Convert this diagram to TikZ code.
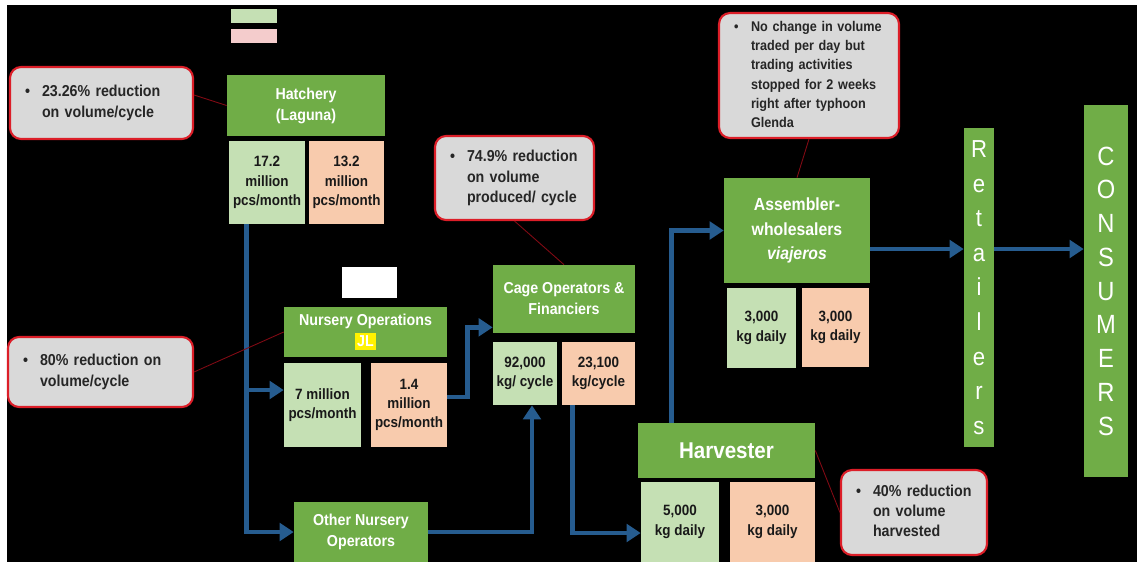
\documentclass[tikz,border=0pt]{standalone}
\usepackage{fontspec}
\setmainfont{Liberation Sans}[FakeStretch=0.9]
\usetikzlibrary{arrows.meta}
\definecolor{hgreen}{RGB}{112,173,71}
\definecolor{lgreen}{RGB}{197,224,180}
\definecolor{peach}{RGB}{248,203,173}
\definecolor{lpink}{RGB}{244,204,204}
\definecolor{notegray}{RGB}{217,217,217}
\definecolor{notered}{RGB}{220,30,40}
\definecolor{flowblue}{RGB}{38,92,143}
\definecolor{pinred}{RGB}{130,10,20}
\tikzstyle{head}=[fill=hgreen, text=white, font=\fontsize{9}{12}\selectfont\bfseries, align=center, inner sep=0pt]
\tikzstyle{valg}=[fill=lgreen, text=black!90, font=\fontsize{8.5}{11}\selectfont\bfseries, align=center, inner sep=0pt]
\tikzstyle{valp}=[valg, fill=peach]
\tikzstyle{note}=[fill=notegray, draw=notered, line width=1.2pt, rounded corners=0.22cm, inner xsep=0.3cm, inner ysep=0pt, align=left, font=\fontsize{9}{11.5}\selectfont\bfseries, text=black!85]
\tikzstyle{bar}=[fill=hgreen, text=white, align=center, inner sep=0pt]
\tikzstyle{flow}=[draw=flowblue, line width=2.8pt, -{Triangle[length=8pt,width=10pt]}]
\tikzstyle{pin}=[draw=pinred, line width=0.5pt]
\newcommand{\bul}[1]{\makebox[0.34cm][l]{\textbullet}\begin{tabular}[t]{@{}l@{}}#1\end{tabular}}
\begin{document}
\begin{tikzpicture}[x=0.02cm, y=-0.02cm]
\useasboundingbox (0, 0) rectangle (1137, 562);
\fill[white] (0, 0) rectangle (1137, 562);
\fill[black] (7, 5) rectangle (1137, 562);
\node[fill=lgreen, minimum width=0.92cm, minimum height=0.28cm, inner sep=0pt] at (254, 16) (keyG) {};
\node[fill=lpink, minimum width=0.92cm, minimum height=0.28cm, inner sep=0pt] at (254, 36) (keyP) {};
\node[note, minimum width=3.66cm, text width=3.06cm, minimum height=1.44cm] at (101.5, 103) (noteHat) {\bul{23.26\% reduction\\on volume/cycle}};
\node[note, minimum width=3.7cm, text width=3.1cm, minimum height=1.4cm] at (100.5, 372) (note80) {\bul{80\% reduction on\\volume/cycle}};
\node[note, minimum width=3.18cm, text width=2.58cm, minimum height=1.68cm] at (514.5, 178) (noteCage) {\bul{74.9\% reduction\\on volume\\produced/ cycle}};
\node[note, minimum width=3.6cm, text width=3.0cm, minimum height=2.5cm, font=\fontsize{8}{11}\selectfont\bfseries] at (809, 75.5) (noteTrade) {\bul{No change in volume\\traded per day but\\trading activities\\stopped for 2 weeks\\right after typhoon\\Glenda}};
\node[note, minimum width=2.92cm, text width=2.32cm, minimum height=1.7cm] at (914, 512.5) (noteHarv) {\bul{40\% reduction\\on volume\\harvested}};
\node[head, minimum width=3.16cm, minimum height=1.22cm] at (306, 105.5) (hatch) {Hatchery\\(Laguna)};
\node[valg, minimum width=1.52cm, minimum height=1.66cm] at (267, 182.5) (hatchG) {17.2\\million\\pcs/month};
\node[valp, minimum width=1.5cm, minimum height=1.66cm] at (346.5, 182.5) (hatchP) {13.2\\million\\pcs/month};
\node[fill=white, minimum width=1.1cm, minimum height=0.62cm, inner sep=0pt] at (369.5, 282.5) (blank) {};
\node[head, minimum width=3.26cm, minimum height=1.0cm] at (365.5, 332) (nurse) {Nursery Operations\\{\setlength{\fboxsep}{1.5pt}\colorbox{yellow}{JL}}};
\node[valg, minimum width=1.54cm, minimum height=1.68cm] at (322.5, 405) (nurseG) {7 million\\pcs/month};
\node[valp, minimum width=1.52cm, minimum height=1.68cm] at (409, 405) (nurseP) {1.4\\million\\pcs/month};
\node[head, minimum width=2.68cm, minimum height=1.2cm] at (361, 532) (other) {Other Nursery\\Operators};
\node[head, minimum width=2.84cm, minimum height=1.36cm] at (564, 299) (cage) {Cage Operators \&\\Financiers};
\node[valg, minimum width=1.28cm, minimum height=1.26cm] at (525, 373.5) (cageG) {92,000\\kg/ cycle};
\node[valp, minimum width=1.46cm, minimum height=1.26cm] at (598.5, 373.5) (cageP) {23,100\\kg/cycle};
\node[head, minimum width=3.54cm, minimum height=1.1cm, font=\fontsize{13}{15}\selectfont\bfseries] at (726.5, 450.5) (harv) {Harvester};
\node[valg, minimum width=1.56cm, minimum height=1.6cm] at (680, 522) (harvG) {5,000\\kg daily};
\node[valp, minimum width=1.7cm, minimum height=1.6cm] at (772.5, 522) (harvP) {3,000\\kg daily};
\node[head, minimum width=2.92cm, minimum height=2.1cm, font=\fontsize{10}{14}\selectfont\bfseries] at (797, 230.5) (asm) {Assembler-\\wholesalers\\\textit{viajeros}};
\node[valg, minimum width=1.38cm, minimum height=1.6cm] at (761.5, 328) (asmG) {3,000\\kg daily};
\node[valp, minimum width=1.34cm, minimum height=1.58cm] at (835.5, 327.5) (asmP) {3,000\\kg daily};
\node[bar, minimum width=0.6cm, minimum height=6.38cm, font=\fontsize{14}{19.7}\selectfont] at (979, 287.5) (ret) {R\\e\\t\\a\\i\\l\\e\\r\\s};
\node[bar, minimum width=0.88cm, minimum height=7.44cm, font=\fontsize{15}{19.2}\selectfont] at (1106, 291) (cons) {C\\O\\N\\S\\U\\M\\E\\R\\S};
\coordinate (lvl) at (0, 249);
\draw[flow] ([xshift=0.36cm]hatchG.south west) |- (other.west);
\draw[flow] ([xshift=0.36cm]hatchG.south west) |- ([yshift=0.3cm]nurseG.west);
\draw[flow] ([yshift=0.16cm]nurseP.east) -- ++(20, 0) |- ([yshift=0.12cm]cage.south west);
\draw[flow] (other.east) -| ([xshift=0.14cm]cageG.south);
\draw[flow] ([xshift=0.22cm]cageP.south west) |- ([yshift=-0.22cm]harvG.west);
\draw[flow] ([xshift=0.68cm]harv.north west) |- (asm.west);
\draw[flow] (asm.east |- lvl) -- (ret.west |- lvl);
\draw[flow] (ret.east |- lvl) -- (cons.west |- lvl);
\draw[pin] ([yshift=0.16cm]noteHat.east) -- (hatch.west);
\draw[pin] (note80.east) -- (nurse.west);
\draw[pin] (noteCage.south) -- (cage.north);
\draw[pin] (noteTrade.south) -- (asm.north);
\draw[pin] (harv.east) -- (noteHarv.west);
\end{tikzpicture}
\end{document}
